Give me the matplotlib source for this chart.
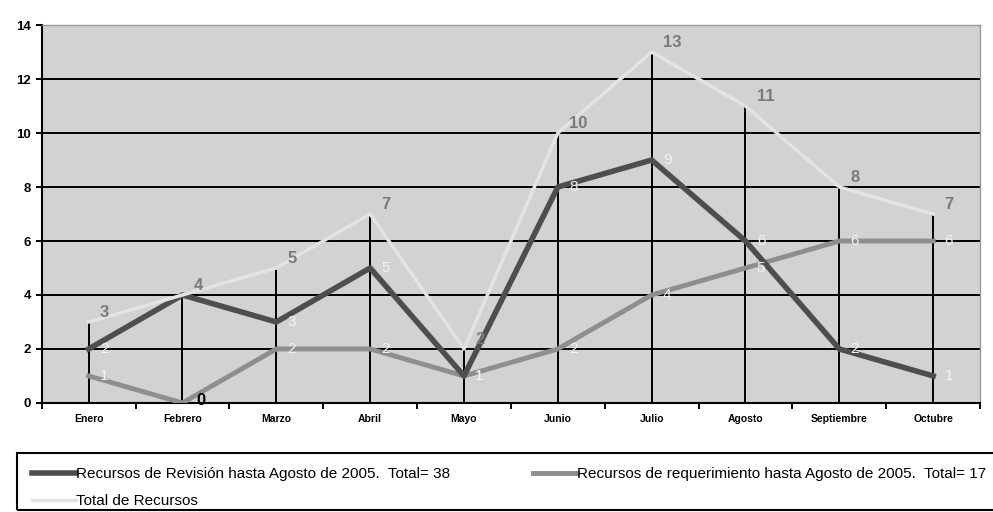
import numpy as np
import matplotlib.pyplot as plt
from matplotlib.patches import Rectangle

plt.rcParams['font.family'] = ['Liberation Sans', 'DejaVu Sans']

# data
meses = ['Enero', 'Febrero', 'Marzo', 'Abril', 'Mayo', 'Junio', 'Julio',
         'Agosto', 'Septiembre', 'Octubre']
revision = [2, 4, 3, 5, 1, 8, 9, 6, 2, 1]
requerimiento = [1, 0, 2, 2, 1, 2, 4, 5, 6, 6]
total = [3, 4, 5, 7, 2, 10, 13, 11, 8, 7]

x = np.arange(len(meses))

fig = plt.figure(figsize=(9.93, 5.12), dpi=100)
ax = fig.add_axes([0.042, 0.213, 0.945, 0.738])
ax.set_facecolor('#d2d2d2')

# horizontal gridlines
for v in range(2, 15, 2):
    ax.axhline(v, color='black', lw=1.4, zorder=1)

# drop lines from the total
ax.vlines(x, 0, total, color='black', lw=1.4, zorder=2)

ax.plot(x, requerimiento, color='#8e8e8e', lw=3.5, zorder=3,
        label='Recursos de requerimiento hasta Agosto de 2005.  Total= 17')
ax.plot(x, revision, color='#4e4e4e', lw=4, zorder=4,
        label='Recursos de Revisión hasta Agosto de 2005.  Total= 38')
ax.plot(x, total, color='#e3e3e3', lw=2.5, zorder=5,
        label='Total de Recursos')

# value labels
for i in range(len(x)):
    ax.text(x[i] + 0.12, total[i] + 0.35, str(total[i]), color='#7a7a7a',
            fontsize=12, fontweight='bold', va='center', zorder=6)
    # where revision equals the total, the total label sits on top of it
    if revision[i] != total[i]:
        ax.text(x[i] + 0.12, revision[i], str(revision[i]), color='#f2f2f2',
                fontsize=11, va='center', zorder=6)
    if requerimiento[i] == 0:
        ax.text(x[i] + 0.15, 0.1, '0', color='black', fontsize=12,
                fontweight='bold', va='center', zorder=6)
    else:
        ax.text(x[i] + 0.12, requerimiento[i], str(requerimiento[i]),
                color='#f2f2f2', fontsize=11, va='center', zorder=6)

ax.set_xlim(-0.5, 9.5)
ax.set_ylim(0, 14)
ax.set_yticks(range(0, 15, 2))
ax.set_xticks(x)
ax.set_xticklabels(meses, fontsize=7.5, fontweight='bold')
ax.set_xticks(np.arange(-0.5, 10, 1), minor=True)
ax.tick_params(axis='x', which='major', length=0, pad=8)
ax.tick_params(axis='x', which='minor', length=4, width=1.4, direction='out')
ax.tick_params(axis='y', length=4, width=1.4)
for lab in ax.get_yticklabels():
    lab.set_fontweight('bold')
    lab.set_fontsize(9.5)

for side in ['top', 'right']:
    ax.spines[side].set_color('#9a9a9a')
    ax.spines[side].set_linewidth(1)
ax.spines['left'].set_linewidth(1.5)
ax.spines['bottom'].set_linewidth(1.5)

# legend box runs off the right edge
fig.patches.append(Rectangle((0.017, 0.004), 1.0, 0.111, transform=fig.transFigure,
                             fill=False, edgecolor='black', lw=1.5))

h, l = ax.get_legend_handles_labels()
order = [1, 2, 0]
leg = fig.legend([h[k] for k in order], [l[k] for k in order], ncol=2,
                 loc='upper left', bbox_to_anchor=(0.032, 0.088),
                 fontsize=11, frameon=False, handlelength=2.9,
                 handletextpad=0.0, columnspacing=5.4, labelspacing=0.85,
                 borderpad=0, borderaxespad=0)

fig.savefig('out.png', dpi=100)
